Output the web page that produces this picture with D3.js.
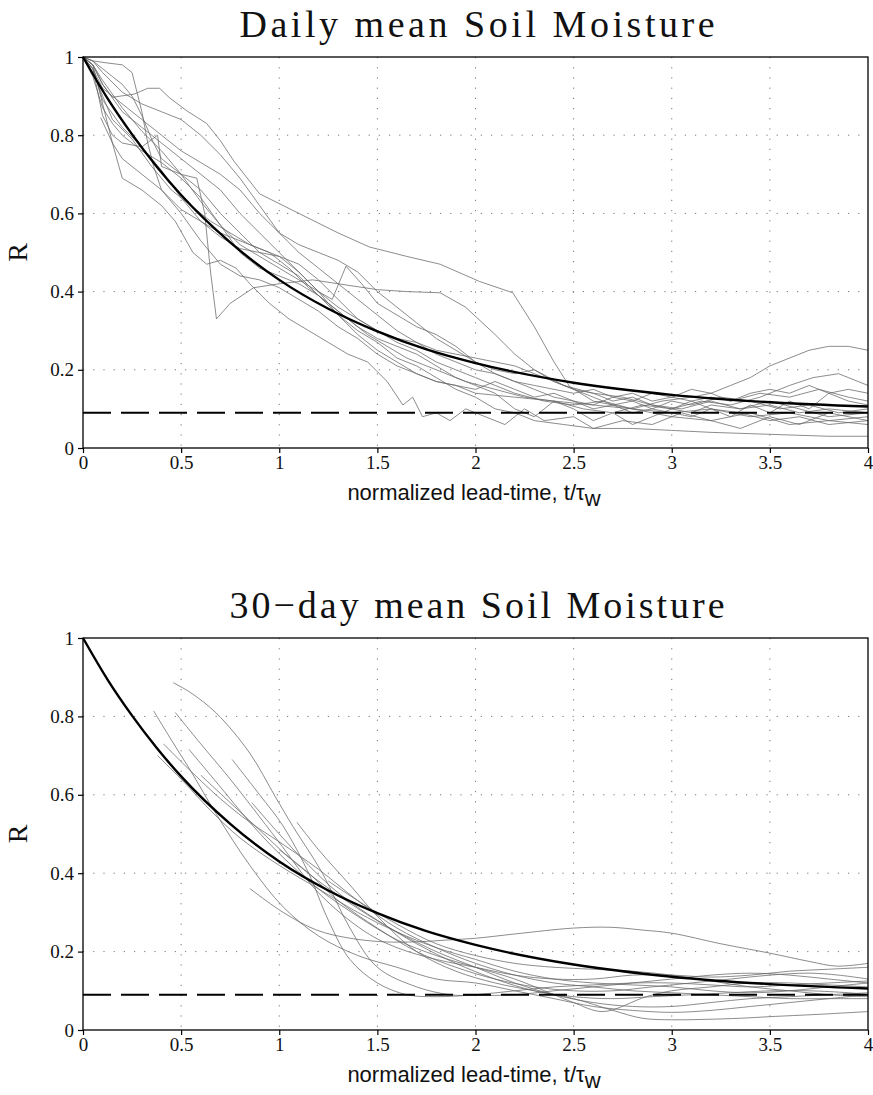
<!DOCTYPE html>
<html><head><meta charset="utf-8">
<script src="https://cdn.jsdelivr.net/npm/d3@7"></script>
<style>body{margin:0;background:#fff}svg{display:block}</style>
</head><body>
<svg id="chart" width="873" height="1095"></svg>
<script>
// ---------- DATA ----------
const titles = ["Daily mean Soil Moisture", "30\u2212day mean Soil Moisture"];
const xTicks = [0, 0.5, 1, 1.5, 2, 2.5, 3, 3.5, 4];
const xTickLabels = ["0", "0.5", "1", "1.5", "2", "2.5", "3", "3.5", "4"];
const yTicks = [0, 0.2, 0.4, 0.6, 0.8, 1];
const yTickLabels = ["0", "0.2", "0.4", "0.6", "0.8", "1"];
const noiseLevel = 0.09;
// fitted exponential decay curve
const fitT = [0, 0.125, 0.25, 0.375, 0.5, 0.75, 1, 1.25, 1.5, 1.75, 2, 2.5, 3, 3.5, 4];
const fitR = [1, 0.894, 0.802, 0.720, 0.647, 0.526, 0.430, 0.356, 0.298, 0.252, 0.217, 0.167, 0.136, 0.117, 0.106];

// daily mean: individual station curves [t, R]
const daily1 = [[0,1],[0.05,0.98],[0.1,0.88],[0.15,0.78],[0.2,0.69],[0.3,0.66],[0.4,0.62],[0.47,0.58],[0.56,0.5],[0.63,0.47],[0.7,0.48],[0.78,0.46],[0.85,0.42],[0.95,0.37],[1.05,0.33],[1.15,0.3],[1.25,0.27],[1.35,0.24],[1.45,0.22],[1.55,0.17],[1.63,0.11],[1.68,0.13],[1.73,0.08],[1.8,0.09],[1.87,0.07],[1.95,0.1],[2.05,0.08],[2.15,0.06],[2.25,0.1],[2.35,0.07],[2.5,0.08],[2.6,0.05],[2.75,0.07],[2.9,0.06],[3.05,0.09],[3.2,0.07],[3.35,0.05],[3.5,0.08],[3.65,0.06],[3.8,0.09],[4,0.07]];
const daily2 = [[0,1],[0.05,0.99],[0.12,0.985],[0.2,0.98],[0.25,0.96],[0.28,0.9],[0.3,0.86],[0.33,0.78],[0.36,0.72],[0.4,0.66],[0.5,0.61],[0.6,0.58],[0.7,0.55],[0.8,0.53],[0.9,0.51],[1,0.49],[1.1,0.45],[1.2,0.4],[1.3,0.34],[1.4,0.29],[1.5,0.25],[1.6,0.22],[1.7,0.19],[1.8,0.17],[1.9,0.16],[2,0.14],[2.2,0.13],[2.4,0.12],[2.6,0.11],[2.8,0.1],[3,0.09],[3.2,0.1],[3.4,0.08],[3.6,0.09],[3.8,0.07],[4,0.08]];
const daily3 = [[0,1],[0.05,0.98],[0.1,0.93],[0.15,0.897],[0.26,0.905],[0.33,0.92],[0.39,0.92],[0.44,0.896],[0.53,0.862],[0.63,0.83],[0.7,0.786],[0.77,0.733],[0.9,0.65],[1.1,0.6],[1.3,0.55],[1.46,0.514],[1.65,0.49],[1.82,0.47],[2.02,0.426],[2.19,0.397],[2.3,0.31],[2.4,0.22],[2.48,0.157],[2.6,0.12],[2.8,0.1],[3,0.08],[3.2,0.07],[3.4,0.09],[3.6,0.06],[3.8,0.07],[4,0.06]];
const daily4 = [[0,1],[0.05,0.97],[0.1,0.85],[0.15,0.8],[0.2,0.78],[0.3,0.77],[0.38,0.8],[0.4,0.72],[0.45,0.71],[0.5,0.7],[0.58,0.69],[0.62,0.6],[0.65,0.45],[0.68,0.33],[0.75,0.37],[0.87,0.41],[1,0.42],[1.17,0.43],[1.3,0.42],[1.5,0.405],[1.65,0.4],[1.82,0.397],[1.95,0.36],[2.1,0.29],[2.2,0.24],[2.3,0.2],[2.45,0.16],[2.6,0.14],[2.75,0.13],[2.9,0.11],[3.05,0.1],[3.2,0.12],[3.35,0.1],[3.5,0.11],[3.65,0.09],[3.8,0.1],[4,0.09]];
const daily5 = [[0,1],[0.05,0.98],[0.1,0.93],[0.2,0.86],[0.3,0.82],[0.4,0.78],[0.5,0.74],[0.6,0.7],[0.7,0.66],[0.8,0.6],[0.9,0.55],[1,0.5],[1.1,0.45],[1.2,0.4],[1.3,0.36],[1.4,0.33],[1.5,0.3],[1.6,0.27],[1.7,0.25],[1.8,0.22],[1.9,0.2],[2,0.18],[2.1,0.16],[2.2,0.14],[2.35,0.12],[2.5,0.11],[2.65,0.12],[2.8,0.1],[2.95,0.12],[3.1,0.13],[3.2,0.14],[3.3,0.16],[3.4,0.18],[3.5,0.21],[3.6,0.23],[3.7,0.25],[3.8,0.26],[3.9,0.26],[4,0.25]];
const daily6 = [[0,1],[0.05,0.96],[0.1,0.9],[0.15,0.84],[0.25,0.79],[0.35,0.72],[0.45,0.66],[0.55,0.62],[0.65,0.58],[0.75,0.55],[0.85,0.52],[0.95,0.5],[1.05,0.46],[1.15,0.41],[1.25,0.37],[1.35,0.33],[1.45,0.29],[1.55,0.26],[1.65,0.23],[1.75,0.21],[1.85,0.19],[1.95,0.17],[2.1,0.15],[2.25,0.13],[2.4,0.12],[2.55,0.1],[2.7,0.09],[2.85,0.11],[3,0.1],[3.15,0.12],[3.3,0.11],[3.45,0.13],[3.6,0.16],[3.72,0.18],[3.85,0.19],[3.95,0.17],[4,0.16]];
const daily7 = [[0,1],[0.05,0.99],[0.1,0.97],[0.15,0.95],[0.2,0.93],[0.25,0.9],[0.3,0.85],[0.35,0.79],[0.4,0.74],[0.5,0.7],[0.6,0.66],[0.7,0.6],[0.8,0.55],[0.9,0.5],[1,0.47],[1.1,0.44],[1.2,0.39],[1.3,0.34],[1.4,0.3],[1.5,0.27],[1.6,0.23],[1.7,0.21],[1.8,0.18],[1.9,0.15],[2,0.13],[2.1,0.1],[2.2,0.09],[2.3,0.07],[2.45,0.06],[2.6,0.05],[2.8,0.05],[3,0.045],[3.2,0.04],[3.5,0.035],[3.8,0.03],[4,0.03]];
const daily8 = [[0.09,0.845],[0.15,0.78],[0.2,0.74],[0.3,0.7],[0.4,0.66],[0.5,0.6],[0.6,0.53],[0.7,0.47],[0.8,0.44],[0.9,0.43],[1,0.41],[1.1,0.38],[1.2,0.35],[1.3,0.31],[1.4,0.28],[1.5,0.24],[1.6,0.21],[1.7,0.19],[1.8,0.17],[1.9,0.16],[2,0.15],[2.1,0.17],[2.2,0.15],[2.3,0.13],[2.4,0.14],[2.5,0.12],[2.6,0.1],[2.7,0.11],[2.8,0.09],[2.9,0.1],[3,0.12],[3.1,0.11],[3.25,0.13],[3.4,0.12],[3.55,0.1],[3.7,0.11],[3.85,0.09],[4,0.1]];
const daily9 = [[0,1],[0.05,0.97],[0.1,0.92],[0.2,0.88],[0.3,0.84],[0.4,0.8],[0.5,0.76],[0.6,0.73],[0.7,0.7],[0.8,0.66],[0.9,0.6],[1,0.55],[1.1,0.52],[1.2,0.5],[1.3,0.48],[1.4,0.45],[1.5,0.4],[1.6,0.36],[1.7,0.32],[1.8,0.28],[1.9,0.25],[2,0.22],[2.1,0.19],[2.2,0.17],[2.3,0.15],[2.4,0.13],[2.5,0.12],[2.6,0.11],[2.7,0.13],[2.8,0.12],[2.9,0.1],[3,0.09],[3.1,0.08],[3.2,0.1],[3.35,0.09],[3.5,0.07],[3.65,0.08],[3.8,0.06],[4,0.07]];
const daily10 = [[0,1],[0.05,0.99],[0.1,0.96],[0.2,0.91],[0.3,0.88],[0.4,0.86],[0.5,0.84],[0.6,0.8],[0.7,0.75],[0.8,0.69],[0.9,0.62],[1,0.55],[1.1,0.5],[1.2,0.46],[1.3,0.42],[1.4,0.38],[1.5,0.34],[1.6,0.3],[1.7,0.27],[1.8,0.24],[1.9,0.22],[2,0.2],[2.1,0.19],[2.2,0.17],[2.3,0.16],[2.4,0.15],[2.5,0.14],[2.6,0.15],[2.7,0.13],[2.8,0.14],[2.9,0.12],[3,0.13],[3.1,0.15],[3.2,0.14],[3.3,0.12],[3.45,0.14],[3.6,0.13],[3.75,0.15],[3.9,0.13],[4,0.12]];
const daily11 = [[0,1],[0.05,0.95],[0.1,0.87],[0.15,0.83],[0.2,0.8],[0.3,0.76],[0.4,0.73],[0.5,0.69],[0.6,0.64],[0.7,0.57],[0.8,0.5],[0.9,0.46],[1,0.44],[1.1,0.42],[1.2,0.39],[1.3,0.35],[1.4,0.31],[1.5,0.28],[1.6,0.26],[1.7,0.24],[1.8,0.21],[1.9,0.18],[2,0.16],[2.1,0.14],[2.2,0.1],[2.3,0.08],[2.4,0.12],[2.5,0.1],[2.6,0.07],[2.7,0.09],[2.8,0.06],[2.9,0.08],[3,0.1],[3.1,0.12],[3.2,0.1],[3.3,0.08],[3.4,0.11],[3.5,0.09],[3.6,0.12],[3.7,0.1],[3.8,0.14],[3.9,0.12],[4,0.11]];
const daily12 = [[0,1],[0.05,0.98],[0.1,0.94],[0.2,0.87],[0.3,0.81],[0.4,0.76],[0.5,0.7],[0.6,0.63],[0.7,0.57],[0.8,0.52],[0.9,0.49],[1,0.46],[1.1,0.43],[1.2,0.4],[1.27,0.38],[1.34,0.465],[1.42,0.42],[1.5,0.37],[1.6,0.34],[1.7,0.31],[1.8,0.29],[1.9,0.26],[2,0.22],[2.1,0.2],[2.2,0.19],[2.3,0.2],[2.4,0.17],[2.5,0.15],[2.6,0.14],[2.7,0.12],[2.8,0.13],[2.9,0.11],[3,0.1],[3.1,0.09],[3.2,0.11],[3.35,0.1],[3.5,0.12],[3.65,0.1],[3.8,0.08],[4,0.09]];
const daily13 = [[0,1],[0.05,0.97],[0.1,0.89],[0.2,0.82],[0.3,0.77],[0.4,0.71],[0.5,0.64],[0.6,0.58],[0.7,0.54],[0.8,0.51],[0.9,0.5],[1,0.49],[1.1,0.47],[1.2,0.43],[1.3,0.38],[1.4,0.33],[1.5,0.3],[1.6,0.28],[1.7,0.27],[1.8,0.25],[1.9,0.24],[2,0.23],[2.1,0.22],[2.2,0.21],[2.3,0.19],[2.4,0.17],[2.5,0.15],[2.6,0.13],[2.7,0.11],[2.8,0.12],[2.9,0.14],[3,0.13],[3.1,0.12],[3.2,0.13],[3.3,0.12],[3.4,0.14],[3.5,0.15],[3.6,0.14],[3.7,0.16],[3.8,0.14],[3.9,0.15],[4,0.14]];

// 30-day mean: individual station curves [t, R]
const month1 = [[0.46,0.886],[0.55,0.86],[0.68,0.808],[0.85,0.706],[0.98,0.595],[1.07,0.519],[1.22,0.4],[1.36,0.26],[1.5,0.16],[1.7,0.11],[1.87,0.09],[2,0.088],[2.2,0.09],[2.4,0.1],[2.6,0.11],[2.8,0.12],[3,0.13],[3.2,0.14],[3.4,0.145],[3.6,0.14],[3.8,0.13],[4,0.12]];
const month2 = [[0.36,0.814],[0.45,0.74],[0.55,0.66],[0.68,0.55],[0.85,0.42],[1.02,0.314],[1.2,0.24],[1.4,0.19],[1.6,0.16],[1.8,0.13],[2,0.12],[2.2,0.1],[2.4,0.08],[2.6,0.06],[2.8,0.05],[3,0.045],[3.2,0.05],[3.4,0.06],[3.6,0.07],[3.8,0.08],[4,0.09]];
const month3 = [[0.47,0.81],[0.6,0.73],[0.75,0.64],[0.99,0.485],[1.2,0.35],[1.44,0.25],[1.6,0.21],[1.8,0.18],[2,0.16],[2.2,0.14],[2.4,0.13],[2.6,0.13],[2.8,0.14],[3,0.14],[3.2,0.135],[3.4,0.14],[3.6,0.15],[3.8,0.155],[4,0.16]];
const month4 = [[0.41,0.73],[0.55,0.66],[0.7,0.59],[0.85,0.53],[1,0.48],[1.2,0.41],[1.4,0.33],[1.6,0.26],[1.8,0.21],[2,0.17],[2.2,0.14],[2.4,0.12],[2.6,0.11],[2.8,0.1],[3,0.095],[3.2,0.09],[3.4,0.085],[3.6,0.08],[3.8,0.08],[4,0.08]];
const month5 = [[0.54,0.716],[0.7,0.62],[0.85,0.53],[1,0.45],[1.2,0.36],[1.4,0.29],[1.6,0.23],[1.8,0.19],[2,0.16],[2.2,0.13],[2.4,0.09],[2.5,0.07],[2.65,0.047],[2.87,0.085],[3,0.1],[3.2,0.11],[3.4,0.12],[3.6,0.12],[3.8,0.115],[4,0.11]];
const month6 = [[0.76,0.69],[0.9,0.6],[1.02,0.52],[1.15,0.4],[1.25,0.28],[1.36,0.18],[1.5,0.12],[1.65,0.09],[1.8,0.085],[2,0.09],[2.2,0.1],[2.4,0.11],[2.6,0.115],[2.8,0.12],[3,0.12],[3.2,0.115],[3.4,0.11],[3.6,0.115],[3.8,0.12],[4,0.125]];
const month7 = [[1.09,0.53],[1.2,0.46],[1.36,0.37],[1.5,0.29],[1.7,0.2],[1.9,0.15],[2.1,0.12],[2.3,0.1],[2.5,0.08],[2.7,0.05],[2.85,0.03],[3,0.026],[3.16,0.027],[3.35,0.03],[3.5,0.034],[3.75,0.04],[4,0.047]];
const month8 = [[0.85,0.361],[1.02,0.3],[1.19,0.255],[1.35,0.235],[1.53,0.225],[1.7,0.225],[1.87,0.23],[2,0.234],[2.2,0.245],[2.5,0.26],[2.69,0.262],[2.85,0.255],[3,0.247],[3.25,0.22],[3.5,0.196],[3.7,0.175],[3.84,0.163],[4,0.17]];
const month9 = [[0.38,0.7],[0.5,0.64],[0.65,0.56],[0.8,0.49],[1,0.42],[1.2,0.36],[1.4,0.3],[1.6,0.25],[1.8,0.21],[2,0.18],[2.2,0.15],[2.4,0.13],[2.6,0.12],[2.8,0.115],[3,0.11],[3.2,0.1],[3.4,0.095],[3.6,0.1],[3.8,0.11],[4,0.12]];
const month10 = [[0.6,0.65],[0.75,0.58],[0.9,0.51],[1.05,0.44],[1.2,0.38],[1.4,0.31],[1.6,0.25],[1.8,0.2],[2,0.16],[2.2,0.12],[2.4,0.09],[2.6,0.07],[2.8,0.06],[3,0.06],[3.2,0.07],[3.4,0.08],[3.6,0.085],[3.8,0.09],[4,0.095]];
const month11 = [[1.25,0.38],[1.4,0.33],[1.6,0.27],[1.8,0.22],[2,0.19],[2.2,0.17],[2.4,0.16],[2.6,0.155],[2.8,0.15],[3,0.14],[3.2,0.125],[3.4,0.11],[3.6,0.1],[3.8,0.09],[4,0.085]];
const month12 = [[1,0.46],[1.15,0.4],[1.3,0.33],[1.5,0.26],[1.7,0.2],[1.9,0.16],[2.1,0.13],[2.3,0.11],[2.5,0.1],[2.7,0.1],[2.9,0.11],[3.1,0.12],[3.3,0.13],[3.5,0.14],[3.7,0.145],[3.85,0.14],[4,0.13]];
const month13 = [[0.86,0.58],[1,0.5],[1.15,0.42],[1.3,0.35],[1.5,0.28],[1.7,0.22],[1.9,0.17],[2.1,0.13],[2.3,0.1],[2.5,0.085],[2.7,0.08],[2.9,0.085],[3.1,0.09],[3.3,0.095],[3.5,0.1],[3.7,0.1],[3.9,0.095],[4,0.09]];

const dailySeries = [daily1,daily2,daily3,daily4,daily5,daily6,daily7,daily8,daily9,daily10,daily11,daily12,daily13];
const monthSeries = [month1,month2,month3,month4,month5,month6,month7,month8,month9,month10,month11,month12,month13];

// ---------- DRAW ----------
const svg = d3.select("#chart");
const X0 = 83, X1 = 868;
const panels = [
  {top: 57, bottom: 448, title: titles[0], titleY: 37, series: dailySeries, curve: d3.curveLinear},
  {top: 638, bottom: 1030, title: titles[1], titleY: 618, series: monthSeries, curve: d3.curveCatmullRom}
];
const serif = "'Liberation Serif','DejaVu Serif',serif";
const sans = "'Liberation Sans',Arial,sans-serif";

panels.forEach(p => {
  const x = d3.scaleLinear().domain([0, 4]).range([X0, X1]);
  const y = d3.scaleLinear().domain([0, 1]).range([p.bottom, p.top]);
  const g = svg.append("g");

  // title
  g.append("text").attr("x", 477).attr("y", p.titleY).attr("text-anchor", "middle")
    .style("font-family", serif).style("font-size", "38px").attr("fill", "#111")
    .attr("textLength", p.title.length * 19.8).attr("lengthAdjust", "spacing")
    .text(p.title);

  // grid
  g.append("g").selectAll("line").data(xTicks.slice(1, -1)).join("line")
    .attr("x1", d => x(d)).attr("x2", d => x(d)).attr("y1", p.top).attr("y2", p.bottom)
    .attr("stroke", "#777").attr("stroke-width", 1).attr("stroke-dasharray", "1.2,9");
  g.append("g").selectAll("line").data(yTicks.slice(1, -1)).join("line")
    .attr("x1", X0).attr("x2", X1).attr("y1", d => y(d)).attr("y2", d => y(d))
    .attr("stroke", "#777").attr("stroke-width", 1).attr("stroke-dasharray", "1.2,9");

  // station curves
  const line = d3.line().x(d => x(d[0])).y(d => y(d[1])).curve(p.curve);
  g.append("g").selectAll("path").data(p.series).join("path")
    .attr("d", line).attr("fill", "none").attr("stroke", "#666").attr("stroke-width", 0.75);

  // noise level
  g.append("line").attr("x1", X0).attr("x2", X1).attr("y1", y(noiseLevel)).attr("y2", y(noiseLevel))
    .attr("stroke", "#000").attr("stroke-width", 2).attr("stroke-dasharray", "28,10");

  // fitted curve
  const fit = fitT.map((t, i) => [t, fitR[i]]);
  g.append("path").attr("d", d3.line().x(d => x(d[0])).y(d => y(d[1])).curve(d3.curveMonotoneX)(fit))
    .attr("fill", "none").attr("stroke", "#000").attr("stroke-width", 2.4);

  // frame
  g.append("rect").attr("x", X0).attr("y", p.top).attr("width", X1 - X0).attr("height", p.bottom - p.top)
    .attr("fill", "none").attr("stroke", "#000").attr("stroke-width", 1.3);

  // axes
  const xAxis = d3.axisBottom(x).tickValues(xTicks).tickFormat((d, i) => xTickLabels[i]).tickSize(5).tickPadding(3);
  const gx = g.append("g").attr("transform", `translate(0,${p.bottom})`).call(xAxis);
  gx.attr("font-family", null).attr("font-size", null);
  gx.select(".domain").remove();
  gx.selectAll("text").style("font-family", serif).style("font-size", "19px").attr("fill", "#111");
  gx.selectAll("line").attr("stroke", "#000").attr("stroke-width", 1.2);

  const yAxis = d3.axisLeft(y).tickValues(yTicks).tickFormat((d, i) => yTickLabels[i]).tickSize(5).tickPadding(4);
  const gy = g.append("g").attr("transform", `translate(${X0},0)`).call(yAxis);
  gy.attr("font-family", null).attr("font-size", null);
  gy.select(".domain").remove();
  gy.selectAll("text").style("font-family", serif).style("font-size", "19px").attr("fill", "#111");
  gy.selectAll("line").attr("stroke", "#000").attr("stroke-width", 1.2);

  // y label
  const cy = (p.top + p.bottom) / 2;
  g.append("text").attr("transform", `translate(27,${cy}) rotate(-90)`).attr("text-anchor", "middle")
    .style("font-family", serif).style("font-size", "28px").attr("fill", "#111").text("R");

  // x label
  const xl = g.append("text").attr("x", 474).attr("y", p.bottom + 52).attr("text-anchor", "middle")
    .style("font-family", sans).style("font-size", "22px").attr("fill", "#111");
  xl.append("tspan").text("normalized lead-time, t/\u03C4");
  xl.append("tspan").attr("dy", 6).text("w");
});
</script>
</body></html>
